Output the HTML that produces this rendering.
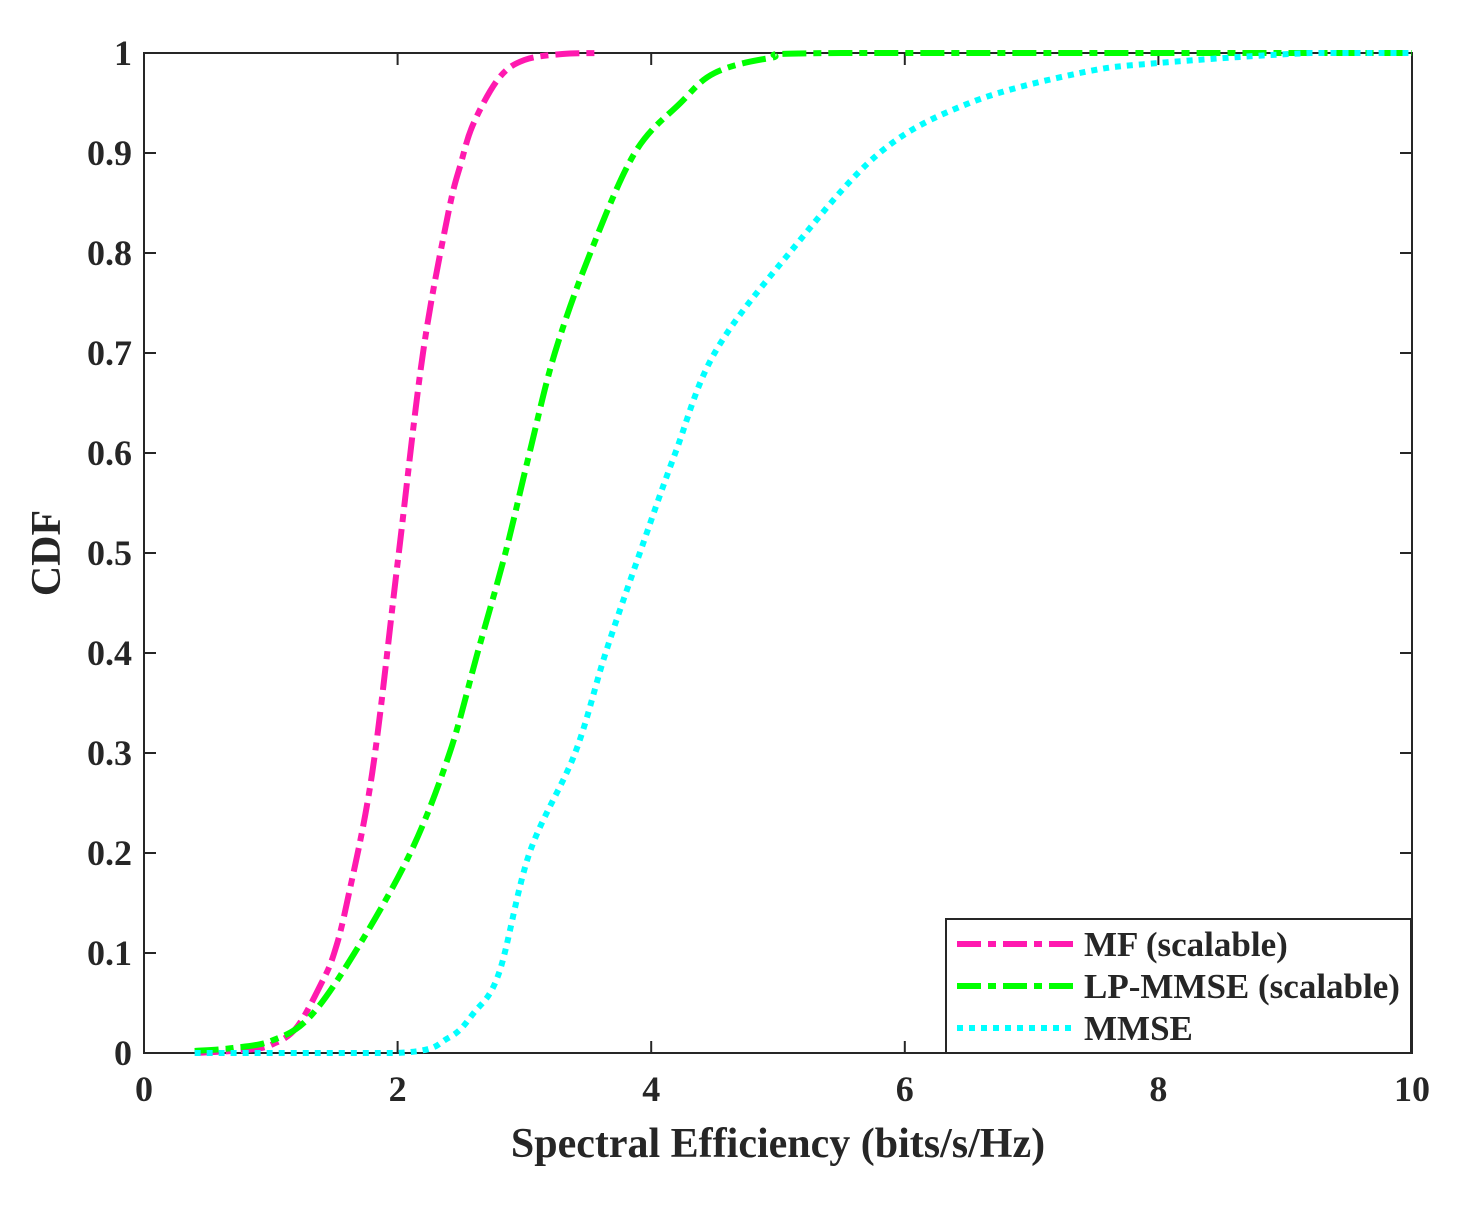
<!DOCTYPE html>
<html><head><meta charset="utf-8"><style>
body{margin:0;background:#fff}
svg text{font-family:"Liberation Serif",serif;font-weight:bold;fill:#262626}
</style></head><body>
<svg id="chart" width="1484" height="1200" xmlns="http://www.w3.org/2000/svg">
<rect width="1484" height="1200" fill="#fff"/>
<g id="plot"></g>
</svg>
<script>
const xTicks=[0,2,4,6,8,10];
const yTicks=[0,0.1,0.2,0.3,0.4,0.5,0.6,0.7,0.8,0.9,1];
const mfX=[0.4,0.8,1.0,1.2,1.4,1.5,1.6,1.8,2.0,2.2,2.4,2.5,2.6,2.8,3.0,3.3,3.6];
const mfY=[0,0.003,0.008,0.025,0.07,0.1,0.15,0.28,0.49,0.70,0.84,0.89,0.93,0.975,0.993,0.999,1];
const lpX=[0.4,0.7,1.0,1.3,1.66,2.1,2.41,2.63,2.85,3.04,3.24,3.52,3.87,4.23,4.5,4.94,5.5,10];
const lpY=[0.002,0.005,0.012,0.035,0.1,0.2,0.3,0.4,0.5,0.6,0.7,0.8,0.9,0.95,0.98,0.995,1,1];
const mmX=[0.4,2.0,2.4,2.6,2.8,3.04,3.4,3.64,3.91,4.19,4.5,5.09,5.8,6.51,7.38,8.0,9.2,10];
const mmY=[0,0,0.015,0.04,0.08,0.2,0.3,0.4,0.5,0.6,0.7,0.8,0.9,0.95,0.98,0.99,1,1];
const L=144,R=1412,T=53,B=1053;
const sx=v=>L+(R-L)*v/10, sy=v=>B-(B-T)*v;
const NS='http://www.w3.org/2000/svg';
const g=document.getElementById('plot');
function mk(t,a,txt){const e=document.createElementNS(NS,t);for(const k in a)e.setAttribute(k,a[k]);if(txt!==undefined)e.textContent=txt;g.appendChild(e);return e;}
const frame=mk('rect',{x:L,y:T,width:R-L,height:B-T,fill:'none',stroke:'#262626','stroke-width':2});


xTicks.forEach(v=>{
 const t1=mk('line',{x1:sx(v),x2:sx(v),y1:B,y2:B-12,stroke:'#262626','stroke-width':2});
 
 
 const t2=mk('line',{x1:sx(v),x2:sx(v),y1:T,y2:T+12,stroke:'#262626','stroke-width':2});
 
 
 const l=mk('text',{x:sx(v),y:B+48,'text-anchor':'middle','font-size':36},String(v));
 
 
});
yTicks.forEach(v=>{
 const t1=mk('line',{x1:L,x2:L+12,y1:sy(v),y2:sy(v),stroke:'#262626','stroke-width':2});
 
 
 const t2=mk('line',{x1:R,x2:R-12,y1:sy(v),y2:sy(v),stroke:'#262626','stroke-width':2});
 
 
 const l=mk('text',{x:L-12,y:sy(v)+12,'text-anchor':'end','font-size':36},String(v));
 
 
});
function series(xs,ys,color,dash,name){
 const P=xs.map((x,i)=>[sx(x),sy(ys[i])]);
 let d='M'+P[0][0].toFixed(1)+','+P[0][1].toFixed(1);
 for(let i=0;i<P.length-1;i++){
  const p0=P[Math.max(i-1,0)],p1=P[i],p2=P[i+1],p3=P[Math.min(i+2,P.length-1)];
  let c1y=p1[1]+(p2[1]-p0[1])/6, c2y=p2[1]-(p3[1]-p1[1])/6;
  const lo=Math.min(p1[1],p2[1]),hi=Math.max(p1[1],p2[1]);
  c1y=Math.min(hi,Math.max(lo,c1y));c2y=Math.min(hi,Math.max(lo,c2y));
  d+=' C'+(p1[0]+(p2[0]-p0[0])/6).toFixed(1)+','+c1y.toFixed(1)+' '+(p2[0]-(p3[0]-p1[0])/6).toFixed(1)+','+c2y.toFixed(1)+' '+p2[0].toFixed(1)+','+p2[1].toFixed(1);
 }
 const p=mk('path',{d:d,fill:'none',stroke:color,'stroke-width':6,'stroke-dasharray':dash,'stroke-linejoin':'round'});
 
 
}
series(mfX,mfY,'#ff19af','24 7 8 7','mf-scalable-line');
series(lpX,lpY,'#00ff00','24 7 8 7','lp-mmse-scalable-line');
series(mmX,mmY,'#00ffff','6 6','mmse-line');
const xl=mk('text',{x:778,y:1157,'text-anchor':'middle','font-size':42},'Spectral Efficiency (bits/s/Hz)');


const yl=mk('text',{x:0,y:0,'text-anchor':'middle','font-size':42,transform:'translate(60,553) rotate(-90)'},'CDF');


const lg=mk('rect',{x:946,y:919,width:465,height:134,fill:'#fff',stroke:'#262626','stroke-width':2});


[['MF (scalable)','#ff19af','24 7 8 7'],['LP-MMSE (scalable)','#00ff00','24 7 8 7'],['MMSE','#00ffff','6 6']].forEach((e,i)=>{
 const y=944+i*42;
 const ln=mk('line',{x1:957,x2:1075,y1:y,y2:y,stroke:e[1],'stroke-width':6,'stroke-dasharray':e[2]});
 
 
 const t=mk('text',{x:1084,y:y+12,'font-size':35},e[0]);
 
 
});
</script>
</body></html>
